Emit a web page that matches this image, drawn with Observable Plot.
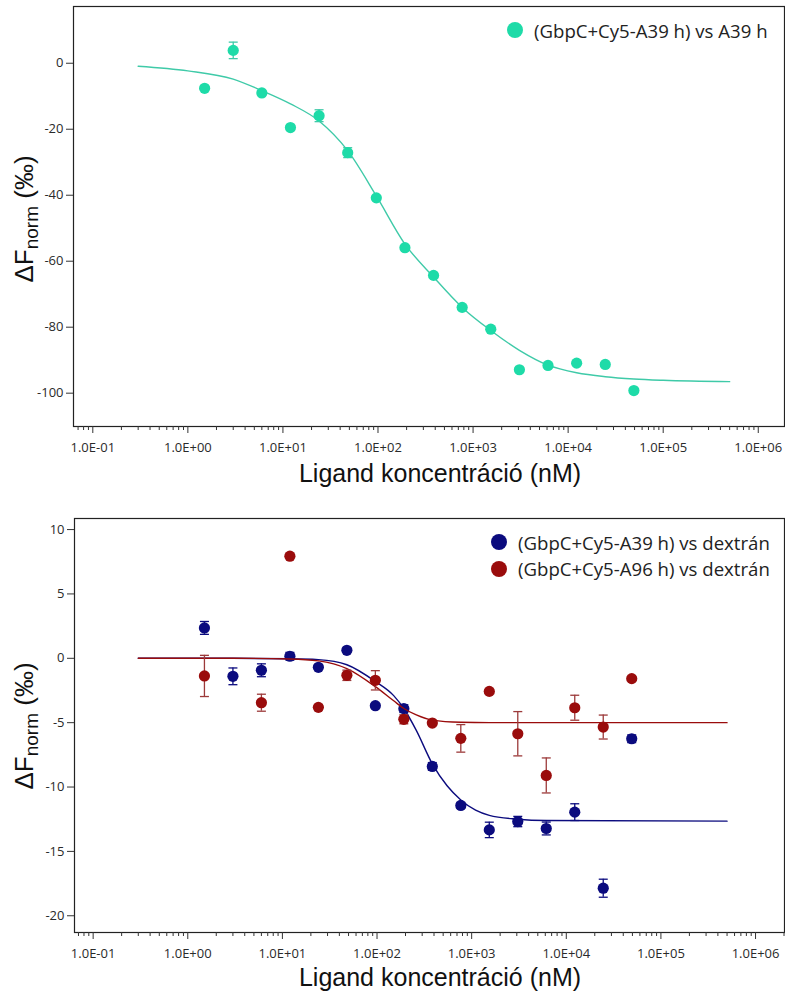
<!DOCTYPE html>
<html>
<head>
<meta charset="utf-8">
<script src="https://cdn.jsdelivr.net/npm/d3@7"></script>
<script src="https://cdn.jsdelivr.net/npm/@observablehq/plot@0.6"></script>
<style>
  body { margin: 0; background: #fff; }
  #wrap { position: relative; width: 785px; height: 992px; overflow: hidden; background:#fff; }
  .chart { position: absolute; left: 0; }
  .ytitle { position: absolute; transform: translate(-50%, -50%) rotate(-90deg); white-space: nowrap;
            font-family: "Liberation Sans", Arial, sans-serif; font-size: 26px; color: #111; }
  .ytitle sub { font-size: 19px; vertical-align: -0.25em; }
  .xtitle { position: absolute; transform: translate(-50%, -50%); white-space: nowrap; line-height: 1;
            font-family: "Liberation Sans", Arial, sans-serif; font-size: 25px; color: #111; }
  .legend { position: absolute; font-family: "Open Sans", "Noto Sans", sans-serif; font-size: 18.6px; color: #222; }
  .legend .row { display: flex; align-items: center; height: 26.5px; white-space: nowrap; }
  .legend .sw { width: 16px; height: 16px; border-radius: 50%; margin-right: 11px; }
</style>
</head>
<body>
<div id="wrap">
  <div class="chart" id="c1" style="top:0px"></div>
  <div class="chart" id="c2" style="top:500px"></div>
  <div class="ytitle" style="left:26px; top:219px">ΔF<sub>norm</sub> (‰)</div>
  <div class="ytitle" style="left:26px; top:726px">ΔF<sub>norm</sub> (‰)</div>
  <div class="xtitle" style="left:440px; top:473px">Ligand koncentráció (nM)</div>
  <div class="xtitle" style="left:440px; top:977px">Ligand koncentráció (nM)</div>
  <div class="legend" id="leg1" style="left:507px; top:17px"></div>
  <div class="legend" id="leg2" style="left:491px; top:529px"></div>
</div>
<script>
// ---- Data ----
const concentrations = [1.5, 3, 6, 12, 24, 48, 96, 192, 384, 768, 1536, 3072, 6144, 12288, 24576, 49152];

// Top chart: (GbpC+Cy5-A39 h) vs A39 h
const topValues = [-7.6, 3.9, -9.0, -19.5, -15.9, -27.1, -40.8, -55.9, -64.3, -74.0, -80.6, -92.9, -91.6, -90.9, -91.3, -99.2];
const topErrors = [0, 2.5, 0, 0, 1.8, 1.5, 0, 0, 0, 0, 0, 0, 0, 0, 0, 0];
const topFitX = [0.3, 1, 3, 6, 12, 24, 48, 96, 192, 384, 768, 1536, 3072, 6144, 12288, 24576, 49152, 100000, 500000];
const topFitY = [-0.9, -2.3, -4.8, -8.3, -12.3, -17.5, -26.5, -40.2, -54.8, -64.8, -74.0, -81.0, -87.0, -91.5, -93.8, -95.0, -95.7, -96.1, -96.5];

// Bottom chart: blue = (GbpC+Cy5-A39 h) vs dextrán
const blueValues = [2.36, -1.40, -0.93, 0.16, -0.70, 0.62, -3.68, -3.91, -8.40, -11.43, -13.33, -12.68, -13.22, -11.95, -17.86, -6.25];
const blueErrors = [0.5, 0.65, 0.5, 0.3, 0.15, 0.15, 0.1, 0.3, 0.3, 0.2, 0.6, 0.4, 0.5, 0.65, 0.7, 0.3];
const blueFitX = [0.3, 3, 12, 24, 48, 96, 150, 192, 260, 384, 550, 768, 1100, 1536, 3072, 6144, 500000];
const blueFitY = [0, 0, -0.03, -0.1, -0.5, -1.8, -2.9, -3.9, -5.6, -8.2, -9.9, -11.0, -11.8, -12.2, -12.5, -12.6, -12.65];

// red = (GbpC+Cy5-A96 h) vs dextrán
const redConcentrations = [1.5, 6, 12, 24, 48, 96, 192, 384, 768, 1536, 3072, 6144, 12288, 24576, 49152];
const redValues = [-1.37, -3.45, 7.93, -3.81, -1.32, -1.71, -4.74, -5.03, -6.22, -2.57, -5.86, -9.10, -3.84, -5.34, -1.58];
const redErrors = [1.6, 0.66, 0, 0.2, 0.4, 0.75, 0.35, 0, 1.07, 0, 1.72, 1.36, 0.97, 0.93, 0];
const redFitX = [0.3, 3, 12, 24, 48, 96, 150, 192, 260, 384, 768, 1536, 500000];
const redFitY = [0, 0, -0.05, -0.2, -0.8, -2.2, -3.3, -3.9, -4.4, -4.8, -4.97, -5.0, -5.0];

// Axis ticks
const xMajorTicks = [0.1, 1, 10, 100, 1000, 10000, 100000, 1000000];
const xTickLabels = ["1.0E-01", "1.0E+00", "1.0E+01", "1.0E+02", "1.0E+03", "1.0E+04", "1.0E+05", "1.0E+06"];
const topYTicks = [0, -20, -40, -60, -80, -100];
const bottomYTicks = [10, 5, 0, -5, -10, -15, -20];

const seriesNames = ["(GbpC+Cy5-A39 h) vs A39 h", "(GbpC+Cy5-A39 h) vs dextrán", "(GbpC+Cy5-A96 h) vs dextrán"];
const colors = { teal: "#1edba8", tealLine: "#3fcaa8", blue: "#0b0b7e", red: "#9a0c0c", redErr: "#9c3a3a" };

// ---- Helpers ----
function minorTicksWithin(domain) {
  const out = [];
  for (let e = -2; e <= 6; e++) for (let k = 2; k <= 9; k++) {
    const v = k * Math.pow(10, e);
    if (v >= domain[0] && v <= domain[1]) out.push(v);
  }
  return out;
}

const capSymbol = { draw(ctx, size) { const r = Math.sqrt(size / Math.PI); ctx.moveTo(-r, 0); ctx.lineTo(r, 0); } };

const zip = (xs, ys, es) => xs.map((x, i) => ({ x, y: ys[i], e: es ? es[i] : 0 }));

function seriesMarks(pts, fit, color, lineColor, errColor) {
  const withErr = pts.filter(d => d.e > 0);
  return [
    Plot.line(fit, { x: "x", y: "y", stroke: lineColor, strokeWidth: 1.4, curve: "monotone-x" }),
    Plot.ruleX(withErr, { x: "x", y1: d => d.y - d.e, y2: d => d.y + d.e, stroke: errColor, strokeWidth: 1.3 }),
    Plot.dot(withErr, { x: "x", y: d => d.y - d.e, symbol: capSymbol, r: 4.5, stroke: errColor, fill: "none", strokeWidth: 1.3 }),
    Plot.dot(withErr, { x: "x", y: d => d.y + d.e, symbol: capSymbol, r: 4.5, stroke: errColor, fill: "none", strokeWidth: 1.3 }),
    Plot.dot(pts, { x: "x", y: "y", r: 5.6, fill: color, stroke: "none" })
  ];
}

function axes(yTicks, xDomain) {
  return [
    Plot.frame({ stroke: "#222", strokeWidth: 1.2 }),
    Plot.axisX({ ticks: minorTicksWithin(xDomain), tickSize: 4, tickFormat: () => "", label: null, stroke: "#333" }),
    Plot.axisX({ ticks: xMajorTicks, tickSize: 7, tickPadding: 9, label: null,
                 tickFormat: d => xTickLabels[xMajorTicks.indexOf(d)], stroke: "#333" }),
    Plot.axisY({ ticks: yTicks, tickSize: 7, tickPadding: 3, label: null, tickFormat: d => String(d), stroke: "#333" })
  ];
}

const style = { fontFamily: "'Open Sans', 'Noto Sans', sans-serif", fontSize: "13px", color: "#2a2a2a", background: "transparent", overflow: "visible" };

// ---- Top chart ----
const topXDomain = [Math.pow(10, -1.203), Math.pow(10, 6.276)];
const topPts = zip(concentrations, topValues, topErrors);
const topFit = zip(topFitX, topFitY);
const chart1 = Plot.plot({
  width: 785, height: 460,
  marginLeft: 73, marginRight: 1, marginTop: 6, marginBottom: 34,
  x: { type: "log", domain: topXDomain },
  y: { domain: [-110.1, 17.2] },
  style,
  marks: [...axes(topYTicks, topXDomain), ...seriesMarks(topPts, topFit, colors.teal, colors.tealLine, colors.tealLine)]
});
document.getElementById("c1").append(chart1);

// ---- Bottom chart ----
const bottomXDomain = [Math.pow(10, -1.197), Math.pow(10, 6.306)];
const bluePts = zip(concentrations, blueValues, blueErrors);
const blueFit = zip(blueFitX, blueFitY);
const redPts = zip(redConcentrations, redValues, redErrors);
const redFit = zip(redFitX, redFitY);
const chart2 = Plot.plot({
  width: 785, height: 470,
  marginLeft: 74, marginRight: 1, marginTop: 18, marginBottom: 38,
  x: { type: "log", domain: bottomXDomain },
  y: { domain: [-21.3, 10.86] },
  style,
  marks: [
    ...axes(bottomYTicks, bottomXDomain),
    ...seriesMarks(bluePts, blueFit, colors.blue, colors.blue, colors.blue),
    ...seriesMarks(redPts, redFit, colors.red, colors.red, colors.redErr)
  ]
});
document.getElementById("c2").append(chart2);

// ---- Legends ----
function legend(el, items) {
  for (const [name, color] of items) {
    const row = document.createElement("div"); row.className = "row";
    const sw = document.createElement("div"); sw.className = "sw"; sw.style.background = color;
    const t = document.createElement("span"); t.textContent = name;
    row.append(sw, t); el.append(row);
  }
}
legend(document.getElementById("leg1"), [[seriesNames[0], colors.teal]]);
legend(document.getElementById("leg2"), [[seriesNames[1], colors.blue], [seriesNames[2], colors.red]]);
</script>
</body>
</html>
